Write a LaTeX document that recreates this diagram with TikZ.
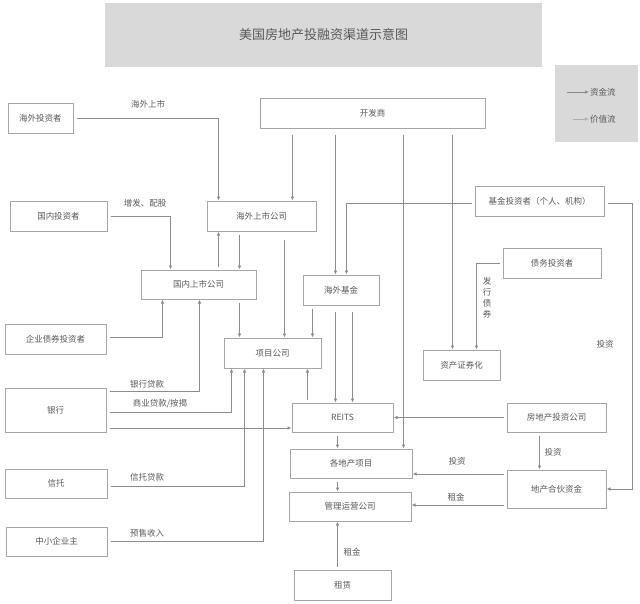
\documentclass[tikz,border=0pt]{standalone}
\usepackage{fontspec}
\newfontfamily\cjk{Noto Sans CJK SC}
\usetikzlibrary{arrows.meta}
\definecolor{linegray}{HTML}{8C8C8C}
\definecolor{boxgray}{HTML}{A6A6A6}
\definecolor{txtgray}{HTML}{595959}
\definecolor{fillgray}{HTML}{D9D9D9}
\begin{document}
\begin{tikzpicture}[x=1pt,y=-1pt,
	box/.style={draw=boxgray,line width=1pt,fill=white,text=txtgray,inner sep=0pt,font=\cjk\fontsize{8.5}{10}\selectfont},
	lab/.style={text=txtgray,inner sep=1pt,font=\cjk\fontsize{8.5}{10}\selectfont},
	flow/.style={draw=linegray,line width=0.8pt,shorten <=3pt,-{Latex[length=4pt,width=3.5pt]}}]
	\useasboundingbox (0,0) rectangle (640,603);
	\node[fill=fillgray,minimum width=437pt,minimum height=64pt,text=txtgray,font=\cjk\fontsize{13}{15}\selectfont] (title) at (323.5,35) {美国房地产投融资渠道示意图};
	\node[fill=fillgray,minimum width=83pt,minimum height=77pt] (legend) at (596.5,103.5) {};
	\node[lab,anchor=west] (zjl) at (589,92) {资金流};
	\node[lab,anchor=west] (jzl) at (589,119) {价值流};
	\coordinate (zjls) at (567,92);
	\coordinate (jzls) at (573,119);
	\draw[flow,shorten <=0pt] (zjls) -- (zjl.west);
	\draw[flow,shorten <=0pt,draw=linegray!70] (jzls) -- (jzl.west);
	\node[box,minimum width=65pt,minimum height=30pt] (hwtz) at (40.5,118) {海外投资者};
	\node[box,minimum width=225pt,minimum height=30pt] (kfs) at (372.5,113) {开发商};
	\node[box,minimum width=97pt,minimum height=30pt] (gntz) at (58.5,216) {国内投资者};
	\node[box,minimum width=109pt,minimum height=30pt] (hwss) at (261.5,216) {海外上市公司};
	\node[box,minimum width=129pt,minimum height=30pt] (jjtz) at (539.5,201) {基金投资者（个人、机构）};
	\node[box,minimum width=115pt,minimum height=29pt] (gnss) at (198.5,284.5) {国内上市公司};
	\node[box,minimum width=76pt,minimum height=30pt] (hwjj) at (341,290) {海外基金};
	\node[box,minimum width=98pt,minimum height=30pt] (zwtz) at (552,263) {债务投资者};
	\node[box,minimum width=101pt,minimum height=30pt] (qyzq) at (55.5,339) {企业债券投资者};
	\node[box,minimum width=97pt,minimum height=30pt] (xmgs) at (272.5,353) {项目公司};
	\node[box,minimum width=77pt,minimum height=30pt] (zczq) at (461.5,365) {资产证券化};
	\node[box,minimum width=101pt,minimum height=44pt] (yh) at (55.5,410) {银行};
	\node[box,minimum width=101pt,minimum height=29pt] (reits) at (342.5,417.5) {REITS};
	\node[box,minimum width=99pt,minimum height=29pt] (fdtz) at (556.5,417.5) {房地产投资公司};
	\node[box,minimum width=122pt,minimum height=29pt] (gdxm) at (351,463.5) {各地产项目};
	\node[box,minimum width=99pt,minimum height=38pt] (dhzj) at (556.5,489) {地产合伙资金};
	\node[box,minimum width=122pt,minimum height=29pt] (glyy) at (350,506.5) {管理运营公司};
	\node[box,minimum width=102pt,minimum height=29pt] (xt) at (56,483.5) {信托};
	\node[box,minimum width=101pt,minimum height=29pt] (zxqy) at (56.5,541.5) {中小企业主};
	\node[box,minimum width=97pt,minimum height=30pt] (zl) at (342.5,585) {租赁};
	\draw[flow] (hwtz.east) -| ([xshift=12pt]hwss.north west);
	\draw[flow,shorten <=6pt] ([xshift=33pt]kfs.south west) -- ([xshift=86pt]hwss.north west);
	\draw[flow,shorten <=6pt] ([xshift=76pt]kfs.south west) -- ([xshift=33pt]hwjj.north west);
	\draw[flow,shorten <=6pt] ([xshift=144pt]kfs.south west) -- ([xshift=114pt]gdxm.north west);
	\draw[flow,shorten <=6pt] ([xshift=193pt]kfs.south west) -- ([xshift=30pt]zczq.north west);
	\draw[flow] ([yshift=-2pt]jjtz.west) -| ([xshift=44pt]hwjj.north west);
	\draw[flow] (gntz.east) -| ([xshift=30pt]gnss.north west);
	\draw[flow] ([xshift=78pt]gnss.north west) -- ([xshift=12pt]hwss.south west);
	\draw[flow] ([xshift=33pt]hwss.south west) -- ([xshift=99pt]gnss.north west);
	\draw[flow] ([xshift=99pt]gnss.south west) -- ([xshift=16pt]xmgs.north west);
	\draw[flow,shorten <=8pt] ([xshift=78pt]hwss.south west) -- ([xshift=61pt]xmgs.north west);
	\draw[flow] ([xshift=10pt]hwjj.south west) -- ([xshift=89pt]xmgs.north west);
	\draw[flow,shorten <=6pt] ([xshift=33pt]hwjj.south west) -- ([xshift=44pt]reits.north west);
	\draw[flow,shorten <=6pt] ([xshift=50pt]hwjj.south west) -- ([xshift=61pt]reits.north west);
	\draw[flow] ([xshift=16pt]reits.north west) -- ([xshift=84pt]xmgs.south west);
	\draw[flow] ([yshift=2pt]qyzq.east) -| ([xshift=22pt]gnss.south west);
	\draw[flow] ([yshift=-4pt]yh.north east) -| ([xshift=59pt]gnss.south west);
	\draw[flow] ([yshift=-2pt]yh.east) -| ([xshift=8pt]xmgs.south west);
	\draw[flow] ([yshift=-18pt]yh.east) -- ([yshift=-10.5pt]reits.west);
	\draw[flow] ([yshift=-2.5pt]xt.east) -| ([xshift=21pt]xmgs.south west);
	\draw[flow] (zxqy.east) -| ([xshift=40pt]xmgs.south west);
	\draw[flow] (zwtz.west) -| ([xshift=54pt]zczq.north west);
	\draw[flow] ([yshift=-2pt]jjtz.east) -- ++(28,0) |- (dhzj.east);
	\draw[flow] (fdtz.west) -- (reits.east);
	\draw[flow] ([xshift=33pt]fdtz.south west) -- ([xshift=33pt]dhzj.north west);
	\draw[flow] ([yshift=15pt]dhzj.west) -- ([yshift=-10.5pt]gdxm.east);
	\draw[flow] ([yshift=-16pt]dhzj.west) -- ([yshift=1.5pt]glyy.east);
	\draw[flow] ([xshift=46pt]reits.south west) -- ([xshift=48pt]gdxm.north west);
	\draw[flow] ([xshift=48pt]gdxm.south west) -- ([xshift=49pt]glyy.north west);
	\draw[flow] ([xshift=44pt]zl.north west) -- ([xshift=49pt]glyy.south west);
	\node[lab] (l1) at (148,104) {海外上市};
	\node[lab] (l2) at (145,203) {增发、配股};
	\node[lab] (l3) at (147,384) {银行贷款};
	\node[lab] (l4) at (160,404) {商业贷款/按揭};
	\node[lab] (l5) at (147,477) {信托贷款};
	\node[lab] (l6) at (147,533) {预售收入};
	\node[lab,align=center,font=\cjk\fontsize{8.5}{11}\selectfont] (l7) at (487,298) {发\\行\\债\\券};
	\node[lab] (l8) at (605,344) {投资};
	\node[lab] (l9) at (553,452) {投资};
	\node[lab] (l10) at (457,461) {投资};
	\node[lab] (l11) at (456,497) {租金};
	\node[lab] (l12) at (352,552) {租金};
\end{tikzpicture}
\end{document}
